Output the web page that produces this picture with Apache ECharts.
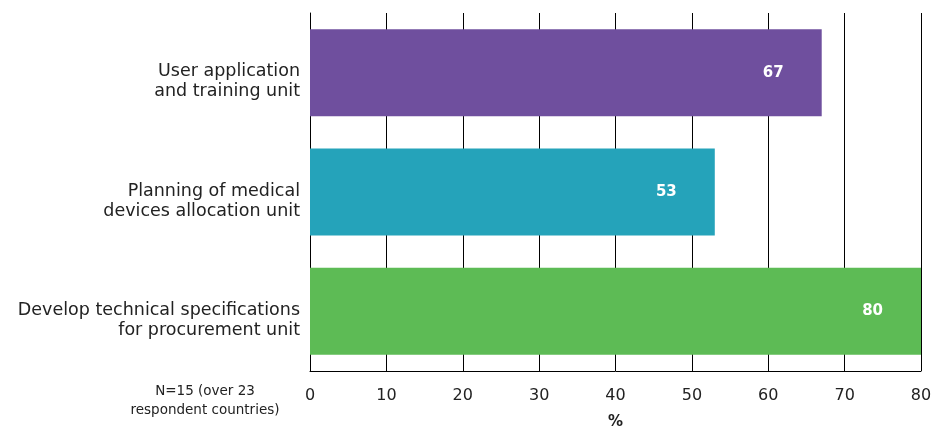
<!DOCTYPE html>
<html>
<head>
<meta charset="utf-8">
<script src="https://cdn.jsdelivr.net/npm/echarts@6/dist/echarts.min.js"></script>
<style>
  html, body { margin: 0; padding: 0; background: #fff; }
  #chart { width: 933px; height: 428px; }
</style>
</head>
<body>
<div id="chart"></div>
<script>
// categories, top to bottom
const categories = [
  'User application\nand training unit',
  'Planning of medical\ndevices allocation unit',
  'Develop technical specifications\nfor procurement unit'
];
const values = [67, 53, 80];
const barColors = ['#6f4f9e', '#25a3ba', '#5dbb55'];
const xTicks = { min: 0, max: 80, interval: 10 };
const noteText = 'N=15 (over 23\nrespondent countries)';

const chart = echarts.init(document.getElementById('chart'));

chart.setOption({
  animation: false,
  textStyle: { fontFamily: 'DejaVu Sans' },
  grid: { left: 310, right: 12, top: 13, bottom: 57, outerBoundsMode: 'none' },
  xAxis: {
    type: 'value',
    min: xTicks.min,
    max: xTicks.max,
    interval: xTicks.interval,
    name: '%',
    nameLocation: 'middle',
    nameGap: 44,
    nameTextStyle: { fontSize: 15, fontWeight: 'bold', color: '#222' },
    axisLine: { show: true, lineStyle: { color: '#000', width: 1 } },
    axisTick: { show: false },
    axisLabel: { fontSize: 16, color: '#222', margin: 17 },
    splitLine: { show: true, lineStyle: { color: '#000', width: 1 } }
  },
  yAxis: {
    type: 'category',
    inverse: true,
    data: categories,
    axisLine: { show: true, lineStyle: { color: '#000', width: 1 } },
    axisTick: { show: false },
    axisLabel: {
      fontSize: 17.5, color: '#222', margin: 10, lineHeight: 20, align: 'right',
      // empty first line pushes the two text lines down a little, like the original
      formatter: v => '{gap|}\n' + v,
      rich: { gap: { lineHeight: 18, height: 18 } }
    }
  },
  graphic: [{
    type: 'text',
    x: 205,
    y: 382,
    style: {
      text: noteText,
      align: 'center',
      fontSize: 13.5,
      lineHeight: 19,
      fill: '#222',
      fontFamily: 'DejaVu Sans'
    }
  }],
  series: [{
    type: 'bar',
    barWidth: 87,
    data: values.map((v, i) => ({ value: v, itemStyle: { color: barColors[i] } })),
    label: {
      show: true,
      position: 'insideRight',
      distance: 38,
      color: '#fff',
      fontWeight: 'bold',
      fontSize: 15
    }
  }]
});
</script>
</body>
</html>
